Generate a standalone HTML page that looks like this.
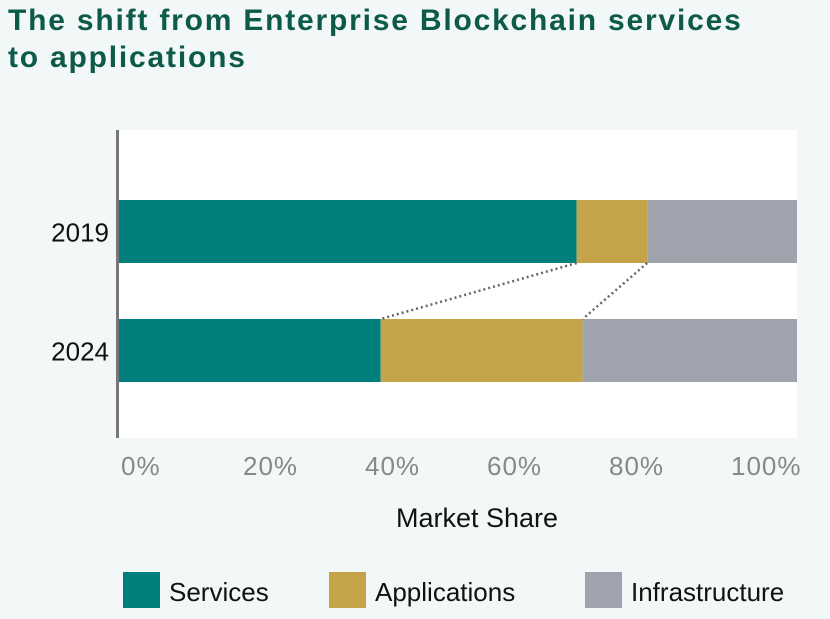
<!DOCTYPE html>
<html><head><meta charset="utf-8"><style>
html,body{margin:0;padding:0;background:#f1f8f7;}
body{width:830px;height:614px;overflow:hidden;font-family:"Liberation Sans",sans-serif;}
</style></head><body>
<svg width="830" height="614" xmlns="http://www.w3.org/2000/svg">
<rect width="830" height="614" fill="#f1f8f7"/>
<text x="8" y="30" font-size="30" font-weight="bold" letter-spacing="1.8" fill="#0d5a4b">The shift from Enterprise Blockchain services</text>
<text x="8" y="67" font-size="30" font-weight="bold" letter-spacing="1.8" fill="#0d5a4b">to applications</text>
<rect x="119" y="130" width="678" height="308" fill="#ffffff"/>
<g id="bars"></g>
<line x1="117.5" y1="130" x2="117.5" y2="438" stroke="#777" stroke-width="3"/>
<g id="ticks"></g>
<text x="477" y="527" font-size="27" text-anchor="middle" fill="#111">Market Share</text>
<g id="legend"></g>
</svg>
<script>
const years = ["2019","2024"];
const services = [67.5, 38.6];
const applications = [10.4, 29.8];
const infrastructure = [22.1, 31.6];
const tickLabels = ["0%","20%","40%","60%","80%","100%"];
const tickValues = [0,20,40,60,80,100];
const seriesNames = ["Services","Applications","Infrastructure"];
const colors = ["#007f7c","#c4a349","#9ea3ae"];
const NS="http://www.w3.org/2000/svg";
const x = v => 119 + v/100*678;
const yTop = i => 200 + i*119;
const barH = 63;
const tickX = v => 121 + v*6.1;
function mk(tag, attrs, parent){const e=document.createElementNS(NS,tag);for(const k in attrs)e.setAttribute(k,attrs[k]);parent.appendChild(e);return e;}
const bars=document.getElementById('bars');
const series=[services,applications,infrastructure];
years.forEach((yr,i)=>{
  let acc=0;
  series.forEach((s,j)=>{
    const r=mk('rect',{x:x(acc),y:yTop(i),width:x(acc+s[i])-x(acc),height:barH,fill:colors[j]},bars);
    
    
    acc+=s[i];
  });
  const t=mk('text',{x:109,y:yTop(i)+barH/2+10,'font-size':26,'text-anchor':'end',fill:'#111'},bars);
  t.textContent=yr;
  
  
});
[0,1].forEach(k=>{
  let a0=0,a1=0;for(let j=0;j<=k;j++){a0+=series[j][0];a1+=series[j][1];}
  const l=mk('line',{x1:x(a0),y1:yTop(0)+barH,x2:x(a1),y2:yTop(1),stroke:'#666','stroke-width':2.5,'stroke-dasharray':'2,3'},bars);
  
  
});
const ticks=document.getElementById('ticks');
tickValues.forEach((v,i)=>{
  const t=mk('text',{x:tickX(v),y:475,'font-size':26,'letter-spacing':1,fill:'#888'},ticks);
  t.textContent=tickLabels[i];
  
  
});
const leg=document.getElementById('legend');
const legX=[123,329,585];
seriesNames.forEach((n,j)=>{
  const r=mk('rect',{x:legX[j],y:572,width:37,height:36,fill:colors[j]},leg);
  
  
  const t=mk('text',{x:legX[j]+46,y:601,'font-size':26,fill:'#111'},leg);
  t.textContent=n;
  
  
});
</script>
</body></html>
